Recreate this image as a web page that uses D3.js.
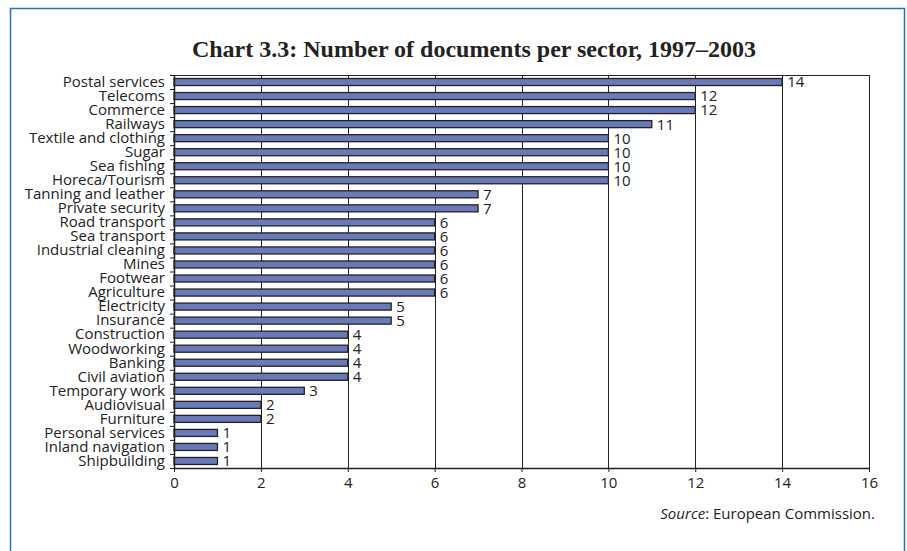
<!DOCTYPE html>
<html><head><meta charset="utf-8">
<script src="https://cdn.jsdelivr.net/npm/d3@7"></script>
<style>
body{margin:0;background:#fff;}
svg{display:block;}
</style></head>
<body>
<svg id="chart" width="907" height="551"></svg>
<script>
const categories = ["Postal services","Telecoms","Commerce","Railways","Textile and clothing","Sugar","Sea fishing","Horeca/Tourism","Tanning and leather","Private security","Road transport","Sea transport","Industrial cleaning","Mines","Footwear","Agriculture","Electricity","Insurance","Construction","Woodworking","Banking","Civil aviation","Temporary work","Audiovisual","Furniture","Personal services","Inland navigation","Shipbuilding"];
const values = [14,12,12,11,10,10,10,10,7,7,6,6,6,6,6,6,5,5,4,4,4,4,3,2,2,1,1,1];
const xTicks = [0,2,4,6,8,10,12,14,16];
const title = "Chart 3.3: Number of documents per sector, 1997\u20132003";

const svg = d3.select("#chart");
const pL = 174, pR = 869, pT = 75, pB = 468;
const x = d3.scaleLinear().domain([0,16]).range([pL,pR]);
const y = d3.scaleBand().domain(categories).range([pT,pB]).paddingInner(0.5).paddingOuter(0.25);
const yb = d3.scaleBand().domain(categories).range([pT,pB]);
const sans = "'Open Sans',sans-serif";

// outer frame
svg.append("rect").attr("x",10.5).attr("y",8.5).attr("width",894).attr("height",560)
  .attr("fill","none").attr("stroke","#2a6fc9").attr("stroke-width",1.5);

svg.append("text").attr("x",474).attr("y",57).attr("text-anchor","middle")
  .style("font-family","'Liberation Serif','Times New Roman',serif").style("font-weight","bold")
  .style("font-size","24px").attr("fill","#222").text(title);

// gridlines
svg.append("g").selectAll("line").data(xTicks.slice(1)).join("line")
  .attr("x1",d=>Math.round(x(d))+0.5).attr("x2",d=>Math.round(x(d))+0.5)
  .attr("y1",pT).attr("y2",pB).attr("stroke","#222").attr("stroke-width",1);
svg.append("line").attr("x1",pL).attr("x2",pR).attr("y1",pT+0.5).attr("y2",pT+0.5)
  .attr("stroke","#222");

// bars
svg.append("g").selectAll("rect").data(categories).join("rect")
  .attr("x",x(0)).attr("y",d=>y(d)).attr("width",(d,i)=>x(values[i])-x(0)).attr("height",y.bandwidth())
  .attr("fill","#6a7ab8").attr("stroke","#222").attr("stroke-width",1.3);

// value labels
svg.append("g").selectAll("text").data(categories).join("text")
  .attr("x",(d,i)=>x(values[i])+5).attr("y",d=>y(d)+y.bandwidth()/2).attr("dy","0.36em")
  .style("font-family",sans).style("font-size","15px").attr("fill","#222")
  .text((d,i)=>values[i]);

// y axis
const yAxis = d3.axisLeft(yb).tickSize(0).tickPadding(9);
const gy = svg.append("g").attr("transform",`translate(${pL},0)`).call(yAxis);
gy.select(".domain").attr("stroke","#222").attr("stroke-width",1.5);
gy.selectAll("text").style("font-family",sans).style("font-size","15px").attr("fill","#222");
// y tick marks at band boundaries
svg.append("g").selectAll("line").data(d3.range(categories.length+1)).join("line")
  .attr("x1",pL-4).attr("x2",pL).attr("y1",i=>pT+i*yb.step()+0.5).attr("y2",i=>pT+i*yb.step()+0.5)
  .attr("stroke","#222");

// x axis
const xAxis = d3.axisBottom(x).tickValues(xTicks).tickSize(4).tickPadding(5).tickSizeOuter(0);
const gx = svg.append("g").attr("transform",`translate(0,${pB})`).call(xAxis);
gx.select(".domain").attr("stroke","#222").attr("stroke-width",1.5);
gx.selectAll("line").attr("stroke","#222");
gx.selectAll("text").style("font-family",sans).style("font-size","15px").attr("fill","#222");

// source
const src = svg.append("text").attr("x",875).attr("y",519).attr("text-anchor","end")
  .style("font-family",sans).style("font-size","15px").attr("fill","#222");
src.append("tspan").style("font-style","italic").text("Source");
src.append("tspan").text(": European Commission.");
</script>
</body></html>
